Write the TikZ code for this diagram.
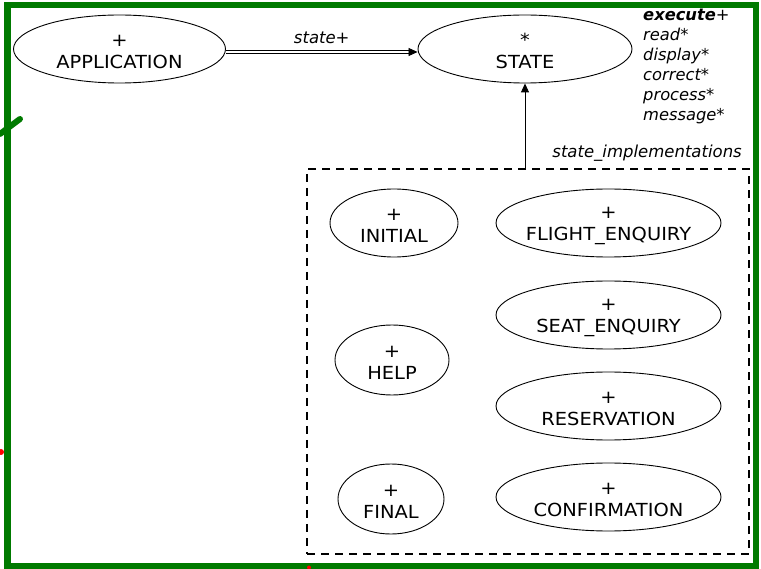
\documentclass[tikz,border=0pt]{standalone}
\usepackage{fontspec}
\setmainfont{DejaVu Sans}
\newfontfamily\clsfont[FakeStretch=1.08]{DejaVu Sans}
\usetikzlibrary{arrows.meta,shapes.geometric}
\definecolor{frame}{RGB}{0,122,0}
\newcommand\topstrut{\rule{0pt}{17pt}}
\tikzset{
  cls/.style={draw, line width=0.9pt, ellipse, inner ysep=0pt, inner xsep=-10pt, align=center,
    font=\clsfont\fontsize{18}{22.5}\selectfont},
  lbl/.style={font=\fontsize{16.5}{20}\selectfont\itshape, inner sep=0pt},
  tip/.style={-{Triangle[length=9pt,width=8pt]}}
}
\begin{document}
\begin{tikzpicture}[x=1pt,y=-1pt]
\useasboundingbox (0,0) rectangle (761,569);
\fill[white] (0,0) rectangle (761,569);
% frame
\draw[frame, line width=6.5pt] (7.5,5) rectangle (756,566);
\draw[frame, line width=6pt, line cap=round] (0,134) -- (20,119);
\fill[red] (1,452) circle (3);
\fill[red] (309,567.5) circle (2);
% top nodes
\node[cls, minimum width=212, minimum height=68] (app) at (119.5,49) {\topstrut+\\APPLICATION};
\node[cls, minimum width=214, minimum height=68] (state) at (525,49) {\topstrut*\\STATE};
\draw[double, double distance=2.2pt, line width=0.8pt, tip] ([yshift=-3pt]app.east) -- node[lbl, above=8pt] {state+} ([yshift=-3pt]state.west);
% features
\node[lbl, anchor=north west, align=left, font=\fontsize{16.3}{20}\selectfont\itshape] (feat) at (643,9)
 {\textbf{execute}+\\read*\\display*\\correct*\\process*\\message*};
% cluster
\node[draw, dashed, dash pattern=on 8pt off 6pt, line width=1.4pt, minimum width=442, minimum height=385, inner sep=0pt] (impl) at (528,361.5) {};
\node[lbl, anchor=base east] (implname) at (742,158) {state\_implementations};
\draw[line width=0.9pt, tip] (state.south |- impl.north) -- (state.south);
% cluster contents
\node[cls, minimum width=128, minimum height=68] (initial) at (394,223) {\topstrut+\\INITIAL};
\node[cls, minimum width=114, minimum height=70] (help) at (392,360) {\topstrut+\\HELP};
\node[cls, minimum width=106, minimum height=70] (final) at (391,499) {\topstrut+\\FINAL};
\node[cls, minimum width=225, minimum height=68] (flight) at (608.5,223) {\topstrut+\\FLIGHT\_ENQUIRY};
\node[cls, minimum width=225, minimum height=68] (seat) at (608.5,315) {\topstrut+\\SEAT\_ENQUIRY};
\node[cls, minimum width=225, minimum height=68] (res) at (608.5,406) {\topstrut+\\RESERVATION};
\node[cls, minimum width=225, minimum height=68] (conf) at (608.5,497) {\topstrut+\\CONFIRMATION};
\end{tikzpicture}
\end{document}
